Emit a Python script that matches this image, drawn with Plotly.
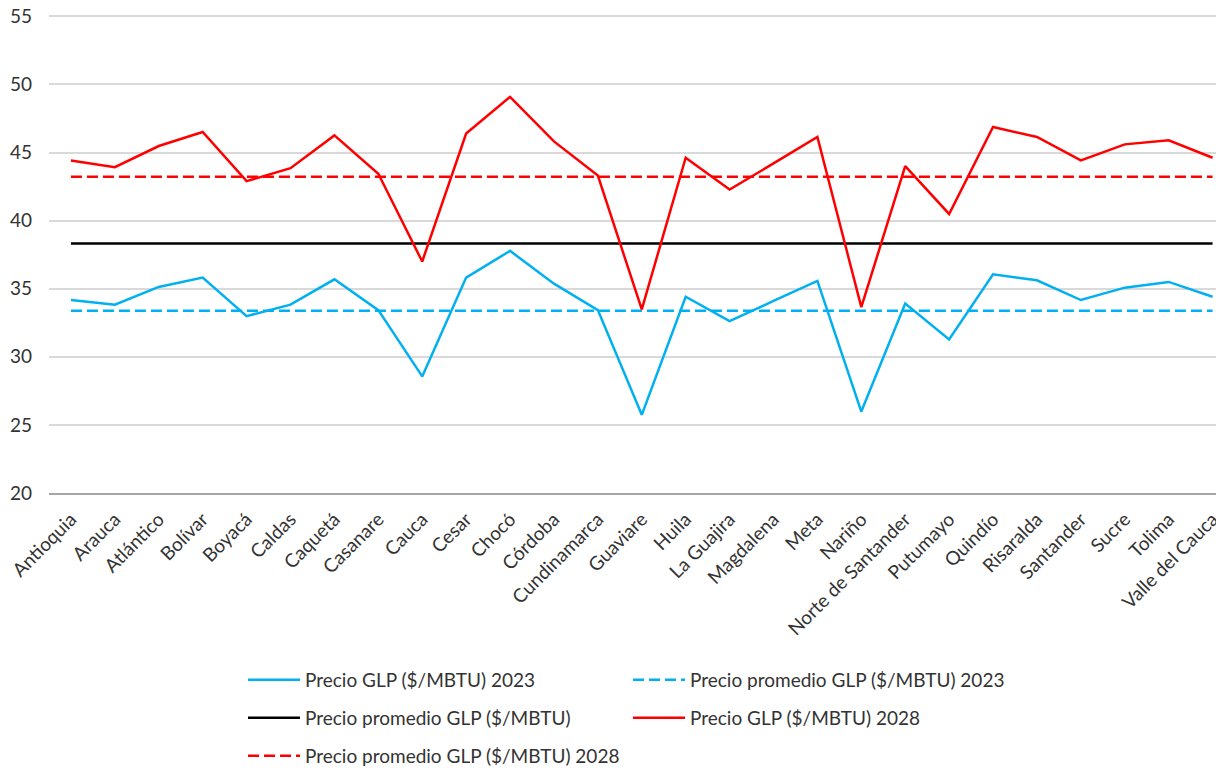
import plotly.graph_objects as go

departamentos = ["Antioquia", "Arauca", "Atlántico", "Bolívar", "Boyacá", "Caldas", "Caquetá",
                 "Casanare", "Cauca", "Cesar", "Chocó", "Córdoba", "Cundinamarca", "Guaviare",
                 "Huila", "La Guajira", "Magdalena", "Meta", "Nariño", "Norte de Santander",
                 "Putumayo", "Quindío", "Risaralda", "Santander", "Sucre", "Tolima", "Valle del Cauca"]

precio_2023 = [34.17, 33.83, 35.13, 35.82, 32.99, 33.83, 35.69, 33.43, 28.56, 35.82, 37.78, 35.37,
               33.43, 25.74, 34.41, 32.62, 34.10, 35.57, 25.98, 33.92, 31.27, 36.06, 35.62, 34.17,
               35.08, 35.50, 34.41]
precio_2028 = [44.42, 43.93, 45.48, 46.51, 42.90, 43.85, 46.26, 43.44, 37.00, 46.39, 49.09, 45.82,
               43.31, 33.48, 44.62, 42.28, 44.20, 46.14, 33.65, 44.00, 40.49, 46.88, 46.14, 44.42,
               45.60, 45.90, 44.62]
promedio_2023 = 33.38
promedio_total = 38.32
promedio_2028 = 43.22

y_ticks = [20, 25, 30, 35, 40, 45, 50, 55]

FONT = "Lato"
TXT = "#333333"
FS = 19
n = len(departamentos)

fig = go.Figure()
fig.add_trace(go.Scatter(x=departamentos, y=precio_2023, mode="lines",
                         name="Precio GLP ($/MBTU) 2023",
                         line=dict(color="#00B0F0", width=2.5), legend="legend"))
fig.add_trace(go.Scatter(x=departamentos, y=[promedio_2023] * n, mode="lines",
                         name="Precio promedio GLP ($/MBTU) 2023",
                         line=dict(color="#00B0F0", width=2.5, dash="11px,5px"), legend="legend2"))
fig.add_trace(go.Scatter(x=departamentos, y=[promedio_total] * n, mode="lines",
                         name="Precio promedio GLP ($/MBTU)",
                         line=dict(color="#000000", width=2.5), legend="legend3"))
fig.add_trace(go.Scatter(x=departamentos, y=precio_2028, mode="lines",
                         name="Precio GLP ($/MBTU) 2028",
                         line=dict(color="#FF0000", width=2.5), legend="legend4"))
fig.add_trace(go.Scatter(x=departamentos, y=[promedio_2028] * n, mode="lines",
                         name="Precio promedio GLP ($/MBTU) 2028",
                         line=dict(color="#FF0000", width=2.5, dash="11px,5px"), legend="legend5"))

# page body has an 8px margin; figure is sized/offset to compensate
OFF = 8
W, H = 1224 - OFF, 771 - OFF

def leg(x_px, y_px):
    return dict(xref="container", yref="container", x=(x_px - OFF) / W, y=1 - (y_px - OFF) / H,
                xanchor="left", yanchor="middle", orientation="h",
                font=dict(family=FONT, size=FS, color=TXT), bgcolor="rgba(0,0,0,0)",
                itemwidth=52, borderwidth=0)

fig.update_layout(
    width=W, height=H,
    margin=dict(l=49 - OFF, r=0, t=7, b=771 - 493),
    paper_bgcolor="white", plot_bgcolor="white",
    font=dict(family=FONT, color=TXT),
    showlegend=True,
    legend=leg(243, 680),
    legend2=leg(628, 680),
    legend3=leg(243, 718),
    legend4=leg(628, 718),
    legend5=leg(243, 756),
    xaxis=dict(range=[-0.5, 26.26], tickangle=-45, tickfont=dict(family=FONT, size=FS, color=TXT),
               showgrid=False, showline=True, linecolor="#A6A6A6", linewidth=1.5,
               ticks="", fixedrange=True, ticklabelstandoff=6, ticklabeloverflow="allow",
               automargin=False),
    yaxis=dict(range=[20, 55.1], tickvals=y_ticks, tickfont=dict(family=FONT, size=FS, color=TXT),
               showgrid=True, gridcolor="#D9D9D9", gridwidth=1.5, zeroline=False,
               showline=False, ticks="", ticklabelstandoff=16, ticklabeloverflow="allow",
               automargin=False, fixedrange=True),
)

fig.write_html("out.html")
